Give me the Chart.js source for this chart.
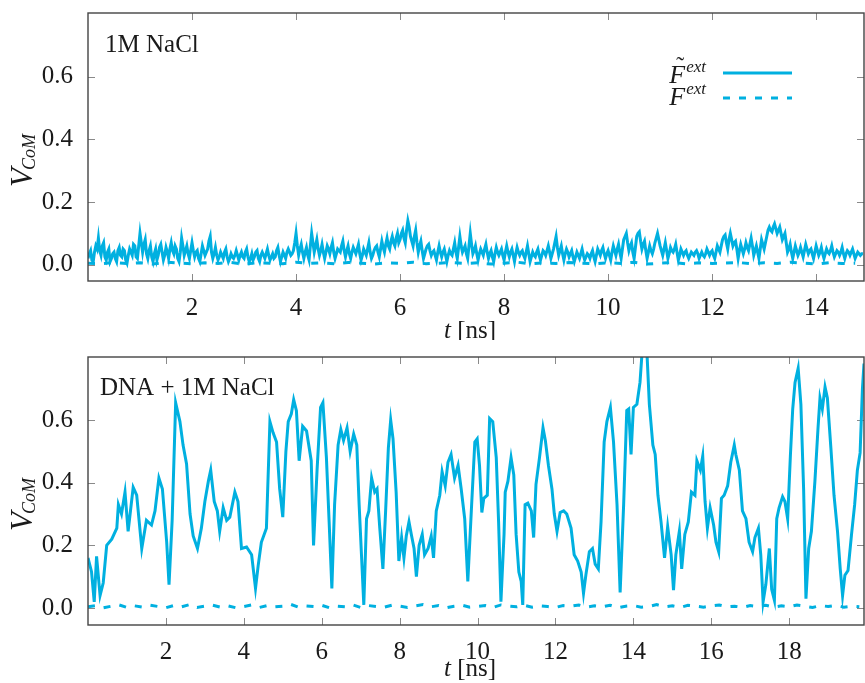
<!DOCTYPE html>
<html>
<head>
<meta charset="utf-8">
<script src="https://cdn.jsdelivr.net/npm/chart.js@4.4.0/dist/chart.umd.min.js"></script>
<style>
  html, body { margin: 0; padding: 0; background: #ffffff; }
  #wrap { position: relative; width: 865px; height: 683px; overflow: hidden; }
  canvas { position: absolute; left: 0; }
  #topChart { top: 0; }
  #botChart { top: 340px; }
</style>
</head>
<body>
<div id="wrap">
  <canvas id="topChart" width="865" height="340"></canvas>
  <canvas id="botChart" width="865" height="343"></canvas>
</div>
<script>
// ---- panel labels and ticks ----
const topPanelLabel = '1M NaCl';
const botPanelLabel = 'DNA + 1M NaCl';
const yTickValues = [0, 0.2, 0.4, 0.6];
const xTicksTop = [2, 4, 6, 8, 10, 12, 14];
const xTicksBot = [2, 4, 6, 8, 10, 12, 14, 16, 18];

// ---- 1M NaCl: centre-of-mass velocity, sampled every 0.025 ns (one row per ns) ----
const dtTopSolid = 0.025;
const vTopSolid = [
  0.02,0.035,0.045,0.015,0.01,0.04,0.06,0.05,0.085,0.045,0.03,0.06,0.07,0.025,0.015,0.04,0.05,0.01,0.02,0.035,0.04,0.02,0.01,0.045,0.055,0.03,0.025,0.05,0.045,0.015,0.005,0.03,0.05,0.04,0.03,0.065,0.06,0.025,0.02,0.06,
  0.1,0.07,0.04,0.065,0.08,0.035,0.02,0.045,0.06,0.025,0.01,0.035,0.05,0.015,0.03,0.055,0.065,0.04,0.015,0.03,0.055,0.04,0.02,0.05,0.07,0.045,0.035,0.06,0.05,0.02,0.01,0.04,0.085,0.06,0.03,0.045,0.06,0.035,0.02,0.045,
  0.07,0.045,0.025,0.04,0.045,0.02,0.01,0.035,0.06,0.045,0.03,0.04,0.05,0.075,0.09,0.04,0.02,0.035,0.055,0.03,0.015,0.025,0.04,0.03,0.02,0.04,0.05,0.025,0.01,0.02,0.035,0.025,0.02,0.03,0.045,0.03,0.015,0.03,0.04,0.025,
  0.02,0.04,0.05,0.025,0.01,0.02,0.035,0.015,0.025,0.04,0.045,0.02,0.01,0.03,0.04,0.03,0.02,0.035,0.05,0.03,0.015,0.025,0.035,0.02,0.025,0.045,0.055,0.03,0.01,0.025,0.04,0.03,0.02,0.04,0.05,0.04,0.03,0.035,0.045,0.07,
  0.1,0.06,0.03,0.05,0.065,0.04,0.02,0.04,0.055,0.03,0.015,0.06,0.1,0.07,0.04,0.06,0.08,0.05,0.03,0.045,0.065,0.04,0.02,0.04,0.06,0.05,0.035,0.055,0.07,0.04,0.02,0.035,0.05,0.045,0.04,0.06,0.075,0.045,0.025,0.045,
  0.06,0.035,0.02,0.04,0.055,0.045,0.035,0.05,0.065,0.035,0.015,0.03,0.05,0.04,0.03,0.05,0.07,0.04,0.02,0.03,0.045,0.055,0.06,0.04,0.025,0.05,0.075,0.055,0.04,0.065,0.085,0.06,0.05,0.075,0.09,0.07,0.06,0.085,0.1,0.07,
  0.08,0.1,0.11,0.085,0.07,0.11,0.14,0.12,0.09,0.075,0.06,0.09,0.11,0.07,0.04,0.06,0.075,0.045,0.02,0.035,0.05,0.06,0.065,0.045,0.03,0.04,0.045,0.03,0.015,0.04,0.06,0.04,0.025,0.04,0.05,0.03,0.01,0.03,0.045,0.035,
  0.03,0.05,0.07,0.04,0.02,0.055,0.09,0.06,0.04,0.05,0.06,0.035,0.02,0.06,0.1,0.065,0.035,0.045,0.06,0.035,0.015,0.035,0.05,0.04,0.03,0.05,0.065,0.04,0.02,0.035,0.045,0.025,0.01,0.035,0.055,0.04,0.03,0.04,0.05,0.03,
  0.015,0.04,0.06,0.04,0.025,0.04,0.05,0.03,0.01,0.035,0.055,0.04,0.03,0.04,0.045,0.03,0.02,0.04,0.06,0.035,0.01,0.025,0.04,0.03,0.025,0.04,0.05,0.03,0.015,0.03,0.045,0.04,0.03,0.045,0.06,0.04,0.02,0.035,0.05,0.07,
  0.09,0.055,0.03,0.045,0.06,0.035,0.015,0.035,0.05,0.04,0.025,0.035,0.045,0.025,0.01,0.025,0.04,0.03,0.02,0.035,0.05,0.03,0.015,0.025,0.035,0.03,0.02,0.035,0.045,0.025,0.01,0.03,0.05,0.04,0.03,0.045,0.055,0.035,0.02,0.035,
  0.045,0.03,0.015,0.04,0.06,0.045,0.03,0.05,0.065,0.04,0.02,0.05,0.08,0.09,0.1,0.07,0.045,0.06,0.07,0.04,0.02,0.055,0.09,0.1,0.105,0.075,0.05,0.065,0.075,0.045,0.02,0.04,0.06,0.045,0.035,0.05,0.07,0.085,0.1,0.08,
  0.06,0.045,0.03,0.05,0.07,0.045,0.02,0.035,0.055,0.045,0.04,0.05,0.065,0.04,0.015,0.03,0.05,0.04,0.03,0.04,0.045,0.03,0.02,0.03,0.04,0.035,0.03,0.04,0.045,0.035,0.02,0.03,0.04,0.03,0.025,0.035,0.05,0.04,0.03,0.04,
  0.045,0.03,0.02,0.04,0.06,0.05,0.04,0.06,0.08,0.09,0.095,0.07,0.05,0.08,0.1,0.08,0.06,0.07,0.075,0.05,0.02,0.045,0.065,0.05,0.035,0.05,0.07,0.055,0.045,0.065,0.085,0.06,0.03,0.045,0.06,0.04,0.02,0.05,0.08,0.065,
  0.05,0.07,0.09,0.11,0.12,0.11,0.105,0.12,0.13,0.115,0.1,0.11,0.12,0.1,0.08,0.09,0.1,0.07,0.04,0.05,0.065,0.04,0.02,0.04,0.06,0.045,0.03,0.04,0.055,0.04,0.025,0.045,0.065,0.05,0.035,0.045,0.05,0.035,0.02,0.04,
  0.06,0.045,0.03,0.04,0.055,0.035,0.02,0.035,0.05,0.04,0.035,0.045,0.06,0.04,0.025,0.035,0.045,0.04,0.03,0.04,0.055,0.035,0.02,0.035,0.045,0.04,0.03,0.04,0.05,0.035,0.02,0.03,0.04,0.035,0.03,0.035,0.035
];

// ---- 1M NaCl: plain external force run, sampled every 0.25 ns ----
const dtTopDashed = 0.25;
const vTopDashed = [
  0.005,0.003,0.007,0.004,0.006,0.002,0.008,0.005,0.003,0.006,
  0.004,0.007,0.002,0.006,0.005,0.003,0.008,0.004,0.006,0.003,
  0.007,0.005,0.002,0.006,0.004,0.008,0.003,0.005,0.007,0.004,
  0.006,0.002,0.005,0.008,0.003,0.006,0.004,0.007,0.005,0.003,
  0.006,0.004,0.008,0.002,0.005,0.007,0.003,0.006,0.004,0.005,
  0.007,0.003,0.006,0.004,0.008,0.005,0.002,0.006,0.004,0.005
];

// ---- DNA + 1M NaCl: modified external force run ----
const tBotSolid = [
  0.00,0.09,0.16,0.22,0.31,0.39,0.48,0.61,0.74,0.78,
  0.86,0.95,1.03,1.16,1.25,1.38,1.50,1.63,1.72,1.82,
  1.91,2.02,2.08,2.16,2.25,2.36,2.44,2.53,2.62,2.70,
  2.81,2.91,3.00,3.09,3.15,3.24,3.32,3.38,3.47,3.56,
  3.64,3.77,3.85,3.94,4.07,4.20,4.30,4.37,4.45,4.58,
  4.67,4.75,4.84,4.92,5.00,5.08,5.14,5.22,5.28,5.35,
  5.42,5.51,5.61,5.73,5.79,5.88,5.97,6.03,6.12,6.19,
  6.26,6.33,6.42,6.49,6.56,6.65,6.73,6.82,6.90,6.96,
  7.02,7.08,7.15,7.21,7.28,7.36,7.42,7.49,7.57,7.64,
  7.71,7.77,7.83,7.91,7.98,8.05,8.11,8.17,8.24,8.30,
  8.37,8.43,8.50,8.58,8.64,8.73,8.81,8.87,8.94,9.03,
  9.09,9.17,9.24,9.32,9.41,9.50,9.58,9.67,9.75,9.84,
  9.93,9.99,10.05,10.11,10.16,10.25,10.31,10.39,10.48,10.54,
  10.60,10.68,10.71,10.78,10.86,10.93,10.99,11.06,11.12,11.16,
  11.22,11.29,11.38,11.44,11.50,11.59,11.68,11.74,11.82,11.91,
  11.97,12.04,12.12,12.21,12.29,12.40,12.48,12.57,12.66,12.72,
  12.78,12.87,12.95,13.02,13.10,13.17,13.25,13.32,13.41,13.49,
  13.58,13.66,13.75,13.83,13.88,13.94,14.00,14.09,14.17,14.22,
  14.28,14.35,14.41,14.50,14.56,14.63,14.71,14.80,14.88,14.97,
  15.03,15.09,15.18,15.24,15.32,15.41,15.49,15.58,15.63,15.72,
  15.78,15.84,15.90,15.97,16.06,16.12,16.19,16.26,16.33,16.42,
  16.50,16.59,16.63,16.72,16.80,16.89,16.97,17.06,17.12,17.21,
  17.27,17.33,17.40,17.49,17.55,17.62,17.68,17.74,17.83,17.89,
  17.96,18.03,18.09,18.15,18.23,18.30,18.37,18.43,18.50,18.57,
  18.66,18.74,18.79,18.85,18.92,18.98,19.07,19.15,19.24,19.31,
  19.37,19.43,19.51,19.60,19.68,19.75,19.82,19.88,19.92
];
const vBotSolid = [
  0.16,0.116,0.02,0.165,0.04,0.08,0.2,0.22,0.255,0.33,
  0.3,0.37,0.245,0.385,0.36,0.19,0.28,0.265,0.31,0.415,
  0.38,0.21,0.075,0.28,0.655,0.595,0.52,0.46,0.3,0.23,
  0.19,0.255,0.34,0.405,0.44,0.34,0.31,0.245,0.32,0.28,
  0.29,0.37,0.34,0.19,0.195,0.17,0.063,0.137,0.21,0.255,
  0.595,0.56,0.53,0.38,0.29,0.5,0.595,0.62,0.665,0.63,
  0.47,0.58,0.565,0.47,0.2,0.44,0.64,0.655,0.48,0.275,
  0.063,0.33,0.52,0.57,0.535,0.575,0.5,0.555,0.52,0.33,
  0.17,0.01,0.285,0.31,0.415,0.37,0.38,0.255,0.125,0.31,
  0.51,0.6,0.54,0.37,0.15,0.225,0.16,0.23,0.275,0.235,
  0.19,0.1,0.2,0.235,0.17,0.19,0.23,0.16,0.31,0.36,
  0.435,0.39,0.465,0.49,0.415,0.455,0.38,0.285,0.085,0.31,
  0.53,0.54,0.455,0.305,0.35,0.36,0.605,0.595,0.48,0.275,
  0.02,0.235,0.37,0.405,0.48,0.425,0.235,0.115,0.085,0.01,
  0.33,0.335,0.31,0.225,0.395,0.48,0.575,0.535,0.455,0.38,
  0.3,0.245,0.305,0.31,0.3,0.255,0.17,0.15,0.115,0.047,
  0.105,0.18,0.19,0.14,0.125,0.275,0.53,0.595,0.64,0.53,
  0.33,0.05,0.33,0.63,0.635,0.49,0.64,0.65,0.72,0.81,
  0.84,0.81,0.65,0.52,0.49,0.36,0.275,0.16,0.26,0.17,
  0.057,0.17,0.245,0.125,0.235,0.275,0.37,0.36,0.47,0.44,
  0.485,0.34,0.255,0.32,0.265,0.21,0.18,0.35,0.36,0.39,
  0.465,0.52,0.49,0.44,0.31,0.285,0.21,0.18,0.225,0.255,
  0.17,0.02,0.075,0.19,0.06,0.025,0.285,0.32,0.355,0.34,
  0.285,0.485,0.635,0.72,0.765,0.65,0.38,0.03,0.19,0.245,
  0.405,0.575,0.67,0.635,0.705,0.67,0.51,0.36,0.245,0.125,
  0.04,0.105,0.12,0.235,0.33,0.44,0.495,0.7,0.78
];

// ---- DNA + 1M NaCl: plain external force run, sampled every 0.2 ns ----
const dtBotDashed = 0.2;
const vBotDashed = [
  0.004,0.008,0.001,0.006,0.01,0.002,0.007,0.003,0.009,0.005,
  0.001,0.008,0.004,0.011,0.002,0.006,0.009,0.003,0.007,0.001,
  0.005,0.01,0.002,0.008,0.004,0.006,0.012,0.003,0.007,0.005,
  0.009,0.001,0.006,0.004,0.01,0.002,0.008,0.005,0.003,0.009,
  0.006,0.002,0.007,0.011,0.004,0.008,0.001,0.006,0.009,0.003,
  0.005,0.008,0.002,0.01,0.006,0.004,0.009,0.003,0.007,0.005,
  0.002,0.008,0.006,0.01,0.003,0.007,0.004,0.009,0.001,0.006,
  0.008,0.003,0.005,0.011,0.004,0.007,0.002,0.009,0.006,0.003,
  0.007,0.01,0.004,0.006,0.002,0.008,0.005,0.009,0.003,0.007,
  0.004,0.01,0.006,0.002,0.008,0.005,0.009,0.003,0.006,0.004
];

// ---- styling ----
const LINE_COLOR = '#00b0e0';
const TEXT_COLOR = '#1a1a1a';
const SERIF = '"Liberation Serif", "DejaVu Serif", serif';

function sampled(values, dt) {
  return values.map((v, i) => ({ x: +(i * dt).toFixed(3), y: v }));
}
function paired(ts, vs) {
  const n = Math.min(ts.length, vs.length);
  const out = [];
  for (let i = 0; i < n; i++) out.push({ x: ts[i], y: vs[i] });
  return out;
}

function drawYTitle(ctx, baseX, startY) {
  ctx.save();
  ctx.translate(baseX, startY);
  ctx.rotate(-Math.PI / 2);
  ctx.fillStyle = TEXT_COLOR;
  ctx.textAlign = 'left';
  ctx.textBaseline = 'alphabetic';
  ctx.font = 'italic 31px ' + SERIF;
  ctx.fillText('V', 0, 0);
  const w = ctx.measureText('V').width;
  ctx.font = 'italic 18px ' + SERIF;
  ctx.fillText('CoM', w - 2, 3);
  ctx.restore();
}

function drawXTitle(ctx, cx, baseline) {
  ctx.save();
  ctx.fillStyle = TEXT_COLOR;
  ctx.textAlign = 'left';
  ctx.textBaseline = 'alphabetic';
  ctx.font = 'italic 25px ' + SERIF;
  const wt = ctx.measureText('t').width;
  ctx.font = '25px ' + SERIF;
  const wr = ctx.measureText(' [ns]').width;
  const x0 = cx - (wt + wr) / 2;
  ctx.font = 'italic 25px ' + SERIF;
  ctx.fillText('t', x0, baseline);
  ctx.font = '25px ' + SERIF;
  ctx.fillText(' [ns]', x0 + wt, baseline);
  ctx.restore();
}

function drawLegend(chart) {
  const ctx = chart.ctx;
  const rows = [
    { ds: 0, lineY: 73, base: 83, tilde: true },
    { ds: 1, lineY: 98, base: 105, tilde: false }
  ];
  const textRight = 706, lineX0 = 723, lineX1 = 792;
  ctx.save();
  rows.forEach(r => {
    const ds = chart.data.datasets[r.ds];
    ctx.fillStyle = TEXT_COLOR;
    ctx.textBaseline = 'alphabetic';
    ctx.textAlign = 'left';
    ctx.font = 'italic 17px ' + SERIF;
    const wExt = ctx.measureText('ext').width;
    ctx.font = 'italic 26px ' + SERIF;
    const wF = ctx.measureText('F').width;
    const xF = textRight - wExt - wF - 1;
    ctx.fillText('F', xF, r.base);
    ctx.font = 'italic 17px ' + SERIF;
    ctx.fillText('ext', textRight - wExt, r.base - 11);
    if (r.tilde) {
      ctx.font = '24px ' + SERIF;
      ctx.textAlign = 'center';
      ctx.fillText('\u02DC', xF + wF / 2 + 3, r.base - 10);
    }
    ctx.strokeStyle = ds.borderColor;
    ctx.lineWidth = ds.borderWidth;
    ctx.setLineDash(ds.borderDash || []);
    ctx.beginPath();
    ctx.moveTo(lineX0, r.lineY);
    ctx.lineTo(lineX1, r.lineY);
    ctx.stroke();
    ctx.setLineDash([]);
  });
  ctx.restore();
}

function panelPlugin(cfg) {
  return {
    id: 'panelDecor',
    beforeDatasetsDraw(chart) {
      const { ctx, chartArea: a, scales } = chart;
      const tl = 7;
      ctx.save();
      ctx.strokeStyle = '#8a8a8a';
      ctx.lineWidth = 1;
      ctx.beginPath();
      scales.x.ticks.forEach(t => {
        const px = Math.round(scales.x.getPixelForValue(t.value)) + 0.5;
        ctx.moveTo(px, a.bottom); ctx.lineTo(px, a.bottom - tl);
        ctx.moveTo(px, a.top); ctx.lineTo(px, a.top + tl);
      });
      scales.y.ticks.forEach(t => {
        const py = Math.round(scales.y.getPixelForValue(t.value)) + 0.5;
        ctx.moveTo(a.left, py); ctx.lineTo(a.left + tl, py);
        ctx.moveTo(a.right, py); ctx.lineTo(a.right - tl, py);
      });
      ctx.stroke();
      ctx.restore();
    },
    afterDatasetsDraw(chart) {
      const { ctx, chartArea: a } = chart;
      ctx.save();
      ctx.strokeStyle = '#444444';
      ctx.lineWidth = 1.4;
      ctx.strokeRect(a.left, a.top, a.right - a.left, a.bottom - a.top);
      ctx.restore();
    },
    afterDraw(chart) {
      const { ctx, chartArea: a } = chart;
      ctx.save();
      ctx.fillStyle = TEXT_COLOR;
      ctx.font = '25px ' + SERIF;
      ctx.textAlign = 'left';
      ctx.textBaseline = 'alphabetic';
      ctx.fillText(cfg.label, cfg.labelX, cfg.labelBase);
      ctx.restore();
      drawYTitle(ctx, 32, (a.top + a.bottom) / 2 + 40);
      drawXTitle(ctx, 470, cfg.xTitleBase);
      if (cfg.legend) drawLegend(chart);
    }
  };
}

function makePanel(canvasId, cfg) {
  const tickFont = { family: SERIF, size: 25 };
  return new Chart(document.getElementById(canvasId), {
    type: 'line',
    data: {
      datasets: [
        { data: cfg.solid, borderColor: LINE_COLOR, borderWidth: 3, pointRadius: 0, tension: 0, fill: false },
        { data: cfg.dashed, borderColor: LINE_COLOR, borderWidth: 3, borderDash: [7, 9], pointRadius: 0, tension: 0, fill: false }
      ]
    },
    options: {
      responsive: false,
      animation: false,
      devicePixelRatio: 1,
      layout: { padding: { top: cfg.padTop, right: 1, left: 0, bottom: 0 } },
      plugins: { legend: { display: false }, tooltip: { enabled: false } },
      scales: {
        x: {
          type: 'linear', min: cfg.xMin, max: cfg.xMax,
          grid: { display: false, drawTicks: false },
          border: { display: false },
          afterFit: s => { s.height = cfg.xAxisH; s.paddingLeft = 0; s.paddingRight = 0; },
          afterBuildTicks: s => { s.ticks = cfg.xTicks.map(v => ({ value: v })); },
          ticks: { padding: 12, font: tickFont, color: TEXT_COLOR, maxRotation: 0, autoSkip: false,
                   callback: v => String(v) }
        },
        y: {
          type: 'linear', min: cfg.yMin, max: cfg.yMax,
          grid: { display: false, drawTicks: false },
          border: { display: false },
          afterFit: s => { s.width = 88; s.paddingTop = 0; s.paddingBottom = 0; },
          afterBuildTicks: s => { s.ticks = yTickValues.map(v => ({ value: v })); },
          ticks: { padding: 15, font: tickFont, color: TEXT_COLOR, autoSkip: false,
                   callback: v => Number(v).toFixed(1) }
        }
      }
    },
    plugins: [panelPlugin(cfg)]
  });
}

makePanel('topChart', {
  solid: sampled(vTopSolid, dtTopSolid),
  dashed: sampled(vTopDashed, dtTopDashed),
  xMin: 0, xMax: 14.92, yMin: -0.052, yMax: 0.803,
  xTicks: xTicksTop, padTop: 13, xAxisH: 59,
  label: topPanelLabel, labelX: 105, labelBase: 52,
  xTitleBase: 338, legend: true
});

makePanel('botChart', {
  solid: paired(tBotSolid, vBotSolid),
  dashed: sampled(vBotDashed, dtBotDashed),
  xMin: 0, xMax: 19.92, yMin: -0.054, yMax: 0.801,
  xTicks: xTicksBot, padTop: 17, xAxisH: 58,
  label: botPanelLabel, labelX: 100, labelBase: 55,
  xTitleBase: 336, legend: false
});
</script>
</body>
</html>
